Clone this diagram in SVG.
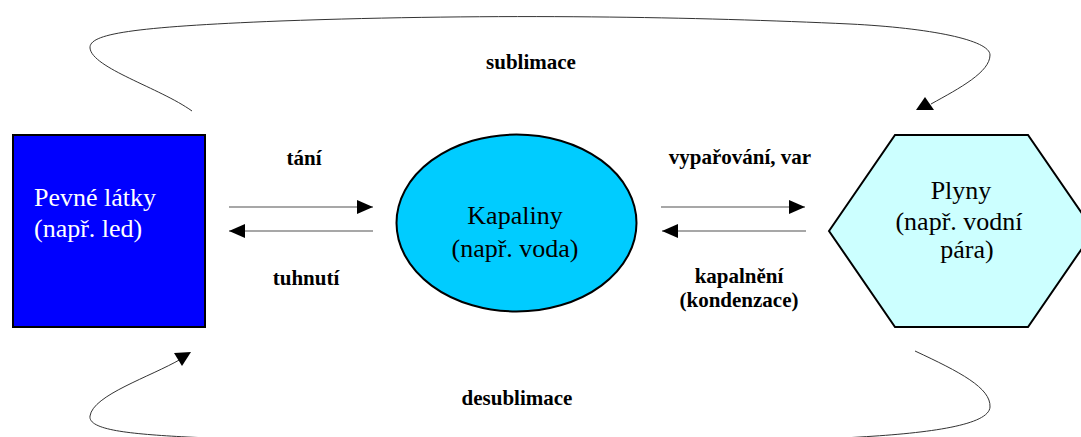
<svg xmlns="http://www.w3.org/2000/svg" width="1081" height="437" viewBox="0 0 1081 437">
<style>
.node{stroke:#000;stroke-width:2}
.nl{font-family:'Liberation Serif','Times New Roman','DejaVu Serif',serif;font-size:26px}
.lbl{font-family:'Liberation Serif','Times New Roman','DejaVu Serif',serif;font-size:21px;font-weight:bold;fill:#000;text-anchor:middle}
.arr{stroke:#8a8a8a;stroke-width:1.5;fill:none}
.crv{stroke:#333;stroke-width:1;fill:none}
.head{fill:#000}
</style>
<defs>
<marker id="ah" viewBox="0 0 16 14" refX="16" refY="7" markerWidth="16" markerHeight="14" markerUnits="userSpaceOnUse" orient="auto">
<path d="M0,0 L16,7 L0,14 Z" class="head"/>
</marker>
</defs>
<rect width="1081" height="437" fill="#fff"/>
<g id="pevne">
<rect class="node" x="13" y="135" width="192" height="192" fill="#0000FF"/>
<text class="nl" fill="#fff" x="34" y="206">Pevné látky</text>
<text class="nl" fill="#fff" x="34" y="237">(např. led)</text>
</g>
<g id="kapaliny">
<ellipse class="node" cx="516.5" cy="223" rx="120" ry="88.5" fill="#00CCFF"/>
<text class="nl" fill="#000" text-anchor="middle" x="515" y="224">Kapaliny</text>
<text class="nl" fill="#000" text-anchor="middle" x="515" y="257">(např. voda)</text>
</g>
<g id="plyny">
<polygon class="node" points="829,231 895,135 1028,135 1094,231 1028,327 895,327" fill="#CCFFFF"/>
<text class="nl" fill="#000" text-anchor="middle" x="961" y="199">Plyny</text>
<text class="nl" fill="#000" text-anchor="middle" x="959" y="230">(např. vodní</text>
<text class="nl" fill="#000" text-anchor="middle" x="967" y="258">pára)</text>
</g>
<g id="connectors">
<line class="arr" x1="229" y1="207" x2="373" y2="207" marker-end="url(#ah)"/>
<line class="arr" x1="373" y1="231" x2="229" y2="231" marker-end="url(#ah)"/>
<line class="arr" x1="661" y1="207" x2="805" y2="207" marker-end="url(#ah)"/>
<line class="arr" x1="806" y1="231" x2="662" y2="231" marker-end="url(#ah)"/>
<path class="crv" d="M192,111 C160,88 92,68 90,48 C89,34 130,27 280,21 C500,13 700,17 850,24 C930,28 990,40 990,55 C990,72 960,88 931,104"/>
<polygon class="head" points="925,97 916,110 934,110"/>
<path class="crv" d="M181,359 C150,377 93,395 90,416 C88,430 130,434 187,437 C400,447 700,447 860,437 C930,433 989,425 990,407 C991,388 960,372 915,351"/>
<polygon class="head" points="174,353 191,352 182,366"/>
</g>
<g id="labels">
<text class="lbl" x="531" y="69">sublimace</text>
<text class="lbl" x="304" y="165">tání</text>
<text class="lbl" x="306" y="285">tuhnutí</text>
<text class="lbl" x="740" y="164">vypařování, var</text>
<text class="lbl" x="739" y="283">kapalnění</text>
<text class="lbl" x="739" y="307">(kondenzace)</text>
<text class="lbl" x="517" y="405">desublimace</text>
</g>
</svg>
